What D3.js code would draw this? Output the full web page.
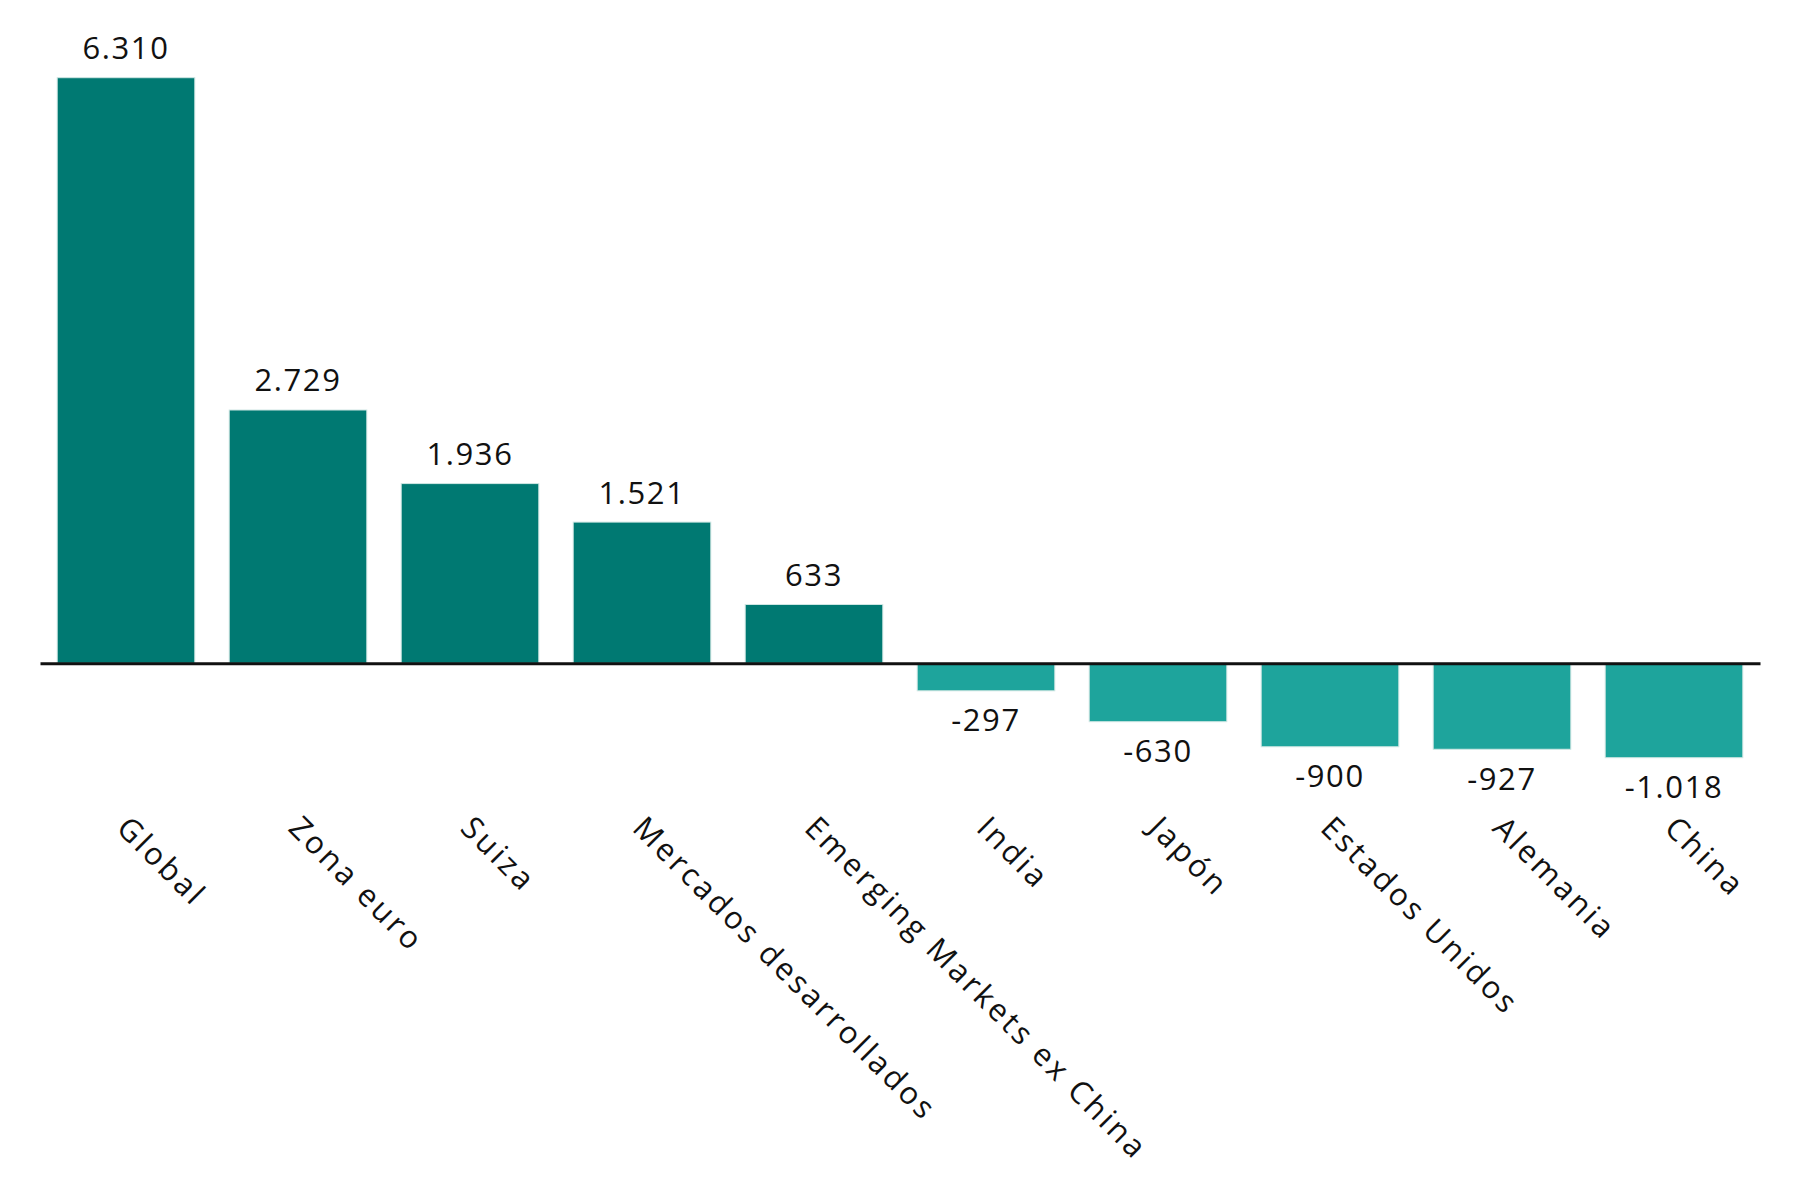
<!DOCTYPE html>
<html>
<head>
<meta charset="utf-8">
<script src="https://cdn.jsdelivr.net/npm/d3@7"></script>
<style>
  html, body { margin: 0; padding: 0; background: #ffffff; }
  svg { display: block; }
  text { font-family: "Open Sans", Lato, sans-serif; font-weight: 400; fill: #111111; }
</style>
</head>
<body>
<svg id="chart" width="1800" height="1200"></svg>
<script>
const categories = ["Global", "Zona euro", "Suiza", "Mercados desarrollados", "Emerging Markets ex China", "India", "Japón", "Estados Unidos", "Alemania", "China"];
const values = [6310, 2729, 1936, 1521, 633, -297, -630, -900, -927, -1018];

const svg = d3.select("#chart");

const x = d3.scaleBand()
  .domain(categories)
  .range([40, 1760])
  .paddingInner(0.2)
  .paddingOuter(0.1);

const y = d3.scaleLinear()
  .domain([d3.min(values), d3.max(values)])
  .range([757.7, 77.7]);

const fmt = d3.formatLocale({ decimal: ",", thousands: ".", grouping: [3], currency: ["", " €"], minus: "-" }).format(",d");

const data = categories.map((c, i) => ({ c, v: values[i] }));

svg.append("g").selectAll("rect")
  .data(data)
  .join("rect")
  .attr("x", d => x(d.c))
  .attr("width", x.bandwidth())
  .attr("y", d => y(Math.max(0, d.v)))
  .attr("height", d => Math.abs(y(d.v) - y(0)))
  .attr("fill", d => d.v >= 0 ? "#007972" : "#1ea49c")
  .attr("stroke", "#cfe6e3")
  .attr("stroke-width", 1);

// zero axis line
const axis = svg.append("g")
  .attr("transform", `translate(0,${y(0)})`)
  .call(d3.axisBottom(x).tickSize(0).tickSizeOuter(0).tickFormat(""));
axis.select(".domain").attr("stroke", "#111").attr("stroke-width", 3.2);

// value labels
svg.append("g").selectAll("text")
  .data(data)
  .join("text")
  .attr("x", d => x(d.c) + x.bandwidth() / 2)
  .attr("y", d => d.v >= 0 ? y(d.v) - 18.5 : y(d.v) + 40.5)
  .attr("text-anchor", "middle")
  .style("font-size", "31px")
  .style("letter-spacing", "1.6px")
  .text(d => fmt(d.v));

// category labels (rotated)
svg.append("g").selectAll("text")
  .data(data)
  .join("text")
  .attr("transform", d => `translate(${x(d.c) + x.bandwidth() / 2 - 11},${y(d3.min(values)) + 72}) rotate(45)`)
  .attr("text-anchor", "start")
  .style("font-size", "31px")
  .style("letter-spacing", "3px")
  .text(d => d.c);
</script>
</body>
</html>
